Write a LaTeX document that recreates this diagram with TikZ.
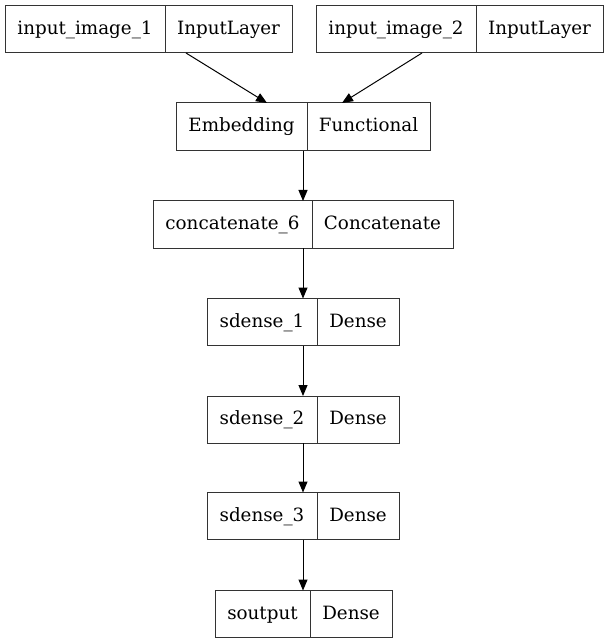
\documentclass[tikz,border=0pt]{standalone}
\usepackage{fontspec}
\setmainfont{DejaVu Serif}
\usepackage{tikz}
\usetikzlibrary{arrows.meta, positioning, calc}

\begin{document}
\begin{tikzpicture}[x=1pt, y=-1pt,
    field/.style={rectangle, draw=black!80, line width=1pt, outer sep=0pt, inner sep=0pt, minimum height=47pt, text height=13.5pt, text depth=3.5pt, font=\fontsize{18.3}{22}\selectfont},
    arrow/.style={-{Triangle[length=11pt, width=9pt]}, black, line width=1pt}
]
\useasboundingbox (0,0) rectangle (608,644);

% Two inputs at top
\node[field, minimum width=160pt] (in1) at (85,29.5) {input\_image\_1};
\node[field, minimum width=127pt, right=0pt of in1] (in1t) {InputLayer};
\node[field, minimum width=160pt] (in2) at (396,29.5) {input\_image\_2};
\node[field, minimum width=127pt, right=0pt of in2] (in2t) {InputLayer};

% Shared embedding and merge
\node[field, minimum width=131pt, minimum height=48pt] (emb) at (241.5,127) {Embedding};
\node[field, minimum width=123pt, minimum height=48pt, right=0pt of emb] (embt) {Functional};
\node[field, minimum width=159pt] (cat) at (232.5,224.5) {concatenate\_6};
\node[field, minimum width=141pt, right=0pt of cat] (catt) {Concatenate};

% Dense stack
\node[field, minimum width=110pt] (sd1) at (262,322) {sdense\_1};
\node[field, minimum width=82pt, right=0pt of sd1] (sd1t) {Dense};
\node[field, minimum width=110pt] (sd2) at (262,419.5) {sdense\_2};
\node[field, minimum width=82pt, right=0pt of sd2] (sd2t) {Dense};
\node[field, minimum width=110pt] (sd3) at (262,516) {sdense\_3};
\node[field, minimum width=82pt, right=0pt of sd3] (sd3t) {Dense};
\node[field, minimum width=95pt] (out) at (262.5,614) {soutput};
\node[field, minimum width=82pt, right=0pt of out] (outt) {Dense};

% Connections - inputs
\draw[arrow] ([xshift=-42.5pt]in1t.south) -- ([xshift=25.5pt]emb.north);
\draw[arrow] ([xshift=26pt]in2.south) -- ([xshift=-26.5pt]embt.north);

% Connections - chain
\coordinate (embs) at ($(emb.south west)!0.5!(embt.south east)$);
\coordinate (cats) at ($(cat.south west)!0.5!(catt.south east)$);
\coordinate (sd1s) at ($(sd1.south west)!0.5!(sd1t.south east)$);
\coordinate (sd2s) at ($(sd2.south west)!0.5!(sd2t.south east)$);
\coordinate (sd3s) at ($(sd3.south west)!0.5!(sd3t.south east)$);
\draw[arrow] (embs) -- (embs |- cat.north);
\draw[arrow] (cats) -- (cats |- sd1.north);
\draw[arrow] (sd1s) -- (sd1s |- sd2.north);
\draw[arrow] (sd2s) -- (sd2s |- sd3.north);
\draw[arrow] (sd3s) -- (sd3s |- out.north);
\end{tikzpicture}
\end{document}
